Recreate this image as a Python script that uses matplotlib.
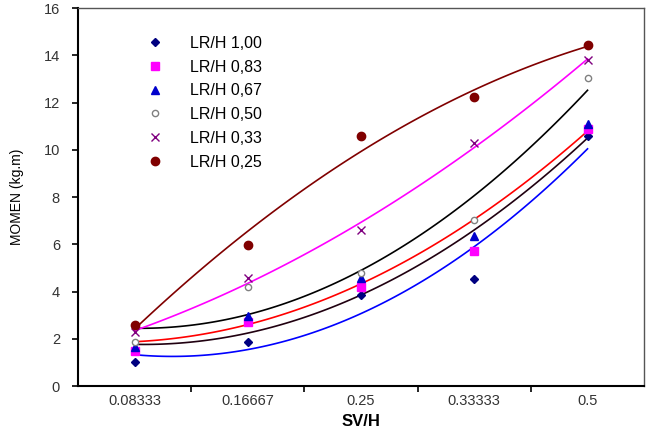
import numpy as np
import matplotlib.pyplot as plt

plt.rcParams['font.family'] = ['Liberation Sans', 'DejaVu Sans']

# categories on the x axis (SV/H)
categories = ['0.08333', '0.16667', '0.25', '0.33333', '0.5']

# MOMEN (kg.m) for each LR/H ratio
labels = ['LR/H 1,00', 'LR/H 0,83', 'LR/H 0,67', 'LR/H 0,50', 'LR/H 0,33', 'LR/H 0,25']
lr100 = [1.03, 1.88, 3.85, 4.53, 10.6]
lr083 = [1.48, 2.70, 4.20, 5.70, 10.9]
lr067 = [1.65, 2.98, 4.57, 6.37, 11.1]
lr050 = [1.88, 4.20, 4.78, 7.05, 13.05]
lr033 = [2.29, 4.57, 6.62, 10.30, 13.8]
lr025 = [2.60, 5.97, 10.60, 12.24, 14.42]
series = [lr100, lr083, lr067, lr050, lr033, lr025]

# marker styles and trendline colours
markers = [
    dict(marker='D', ms=4.5, mfc='#000080', mec='#000080'),
    dict(marker='s', ms=6, mfc='#ff00ff', mec='#ff00ff'),
    dict(marker='^', ms=6, mfc='#0000cc', mec='#0000cc'),
    dict(marker='o', ms=4.5, mfc='white', mec='#808080', mew=1.0),
    dict(marker='x', ms=6, mfc='#800080', mec='#800080', mew=1.0),
    dict(marker='o', ms=6, mfc='#800000', mec='#800000'),
]
line_colors = ['#0000ff', '#200010', '#ff0000', '#000000', '#ff00ff', '#800000']

fig = plt.figure(figsize=(6.5, 4.28), dpi=100)
ax = fig.add_axes([0.12, 0.098, 0.871, 0.883])

x = np.arange(len(categories)) + 0.5
xs = np.linspace(x[0], x[-1], 100)

for vals, lab, mk, lc in zip(series, labels, markers, line_colors):
    # 2nd order polynomial trendline, as in the spreadsheet original
    coef = np.polyfit(x, vals, 2)
    ax.plot(xs, np.polyval(coef, xs), color=lc, lw=1.2, zorder=2)
    ax.plot(x, vals, ls='none', label=lab, zorder=3, **mk)

ax.set_xlim(0, len(categories))
ax.set_ylim(0, 16)
ax.set_yticks(np.arange(0, 17, 2))
ax.set_xticks(np.arange(1, len(categories)))
ax.set_xticklabels([])
ax.set_xticks(x, minor=True)
ax.set_xticklabels(categories, minor=True)
ax.tick_params(axis='x', which='minor', length=0, pad=6, labelsize=10.5, labelcolor='#333333')
ax.tick_params(axis='x', which='major', direction='out', length=4, width=1.2)
ax.tick_params(axis='y', direction='out', length=4, width=1.2, pad=9,
               labelsize=10.5, labelcolor='#333333')

for s in ['left', 'bottom']:
    ax.spines[s].set_linewidth(1.5)
for s in ['top', 'right']:
    ax.spines[s].set_color('#555555')
    ax.spines[s].set_linewidth(1.0)

ax.set_xlabel('SV/H', fontsize=12, fontweight='bold')
ax.xaxis.set_label_coords(0.5, -0.075)
ax.set_ylabel('MOMEN (kg.m)', fontsize=10, labelpad=14)

ax.legend(loc='upper left', bbox_to_anchor=(0.093, 0.965), frameon=False,
          fontsize=11.5, labelspacing=0.55, handletextpad=1.6, handlelength=1.2)

fig.savefig('out.png', dpi=100)
